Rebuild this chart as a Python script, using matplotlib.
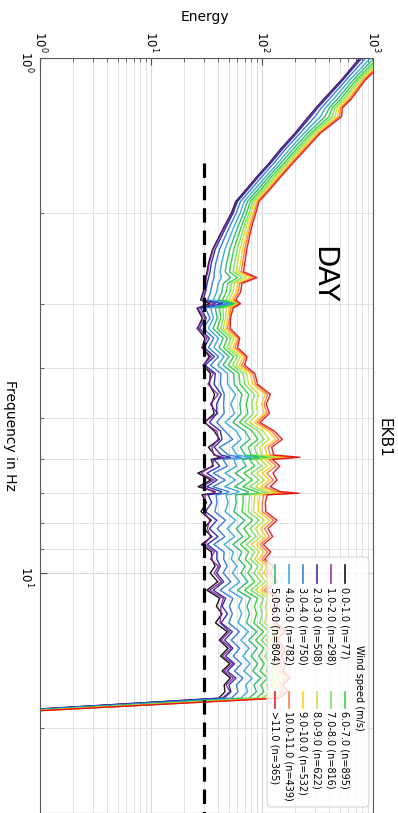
import matplotlib
matplotlib.use("Agg")
import matplotlib.pyplot as plt
from matplotlib.lines import Line2D
from matplotlib.patches import FancyBboxPatch
from matplotlib.ticker import NullFormatter

# spectrum frequencies (Hz)
freq_hz = [1.0, 1.1, 1.2, 1.25, 1.3, 1.4, 1.5, 1.6, 1.7, 1.8,
           1.9, 2.0, 2.1, 2.2, 2.35, 2.5, 2.6, 2.67, 2.74, 2.85,
           2.95, 3.0, 3.06, 3.2, 3.35, 3.5, 3.65, 3.8, 3.95, 4.1,
           4.3, 4.5, 4.7, 4.9, 5.1, 5.3, 5.5, 5.7, 5.9, 5.96,
           6.02, 6.2, 6.4, 6.6, 6.8, 6.95, 7.0, 7.05, 7.3, 7.6,
           7.9, 8.2, 8.5, 8.8, 9.1, 9.4, 9.7, 10.0, 10.4, 10.8,
           11.2, 11.6, 12.0, 12.5, 13.0, 13.5, 14.0, 14.5, 15.0, 15.5,
           16.0, 16.5, 17.0, 17.5, 19.5]

# mean energy per wind speed bin
ws_0_1 = [760, 525, 362, 306, 262, 198, 148, 116, 90, 72,
          58, 53, 47, 42, 36, 33, 32, 31, 30.5, 29.5,
          28, 34, 26, 29, 26.3, 30.5, 29.1, 33.5, 29.8, 34.3,
          33.6, 37.4, 35.2, 37.1, 30.4, 37.1, 41.4, 32.9, 37.7, 42,
          34.9, 36.4, 26.4, 34.7, 26.6, 37.8, 36, 28.8, 31.6, 28.2,
          34.9, 29.8, 35.4, 28.5, 35, 35.3, 37.8, 34.2, 39.9, 31.9,
          41.7, 38.8, 43.7, 38.1, 48.6, 41.3, 49.4, 42.3, 51.4, 43.7,
          51.9, 45.6, 46.4, 40.9, 0.01]
ws_1_2 = [770, 530, 366, 309, 266, 200, 150, 117, 91, 73,
          59, 54, 47.5, 42.5, 36.5, 33.5, 32.5, 31.5, 31, 30,
          28.4, 38, 26.4, 30.5, 25.9, 32, 28.6, 35.1, 29.3, 36.4,
          32.6, 40.2, 34.2, 39.8, 29.9, 39.1, 40.3, 35.3, 36.7, 45,
          36.9, 35.3, 28.2, 36.8, 28.5, 36.7, 38, 30.7, 30.6, 30.1,
          33.8, 32.2, 34.3, 30.4, 37.1, 34.3, 40.5, 37.1, 43.1, 33.7,
          44.9, 42.7, 42.6, 41.9, 50.8, 43.2, 52.5, 44.2, 54.6, 45.6,
          55.1, 47.5, 51.5, 43.7, 0.01]
ws_2_3 = [795, 543, 377, 318, 275, 205, 154, 120, 93, 74.5,
          60, 55, 49, 44, 38, 35, 34, 33, 32, 31,
          29.5, 44, 28, 31.5, 27.3, 33.6, 30.1, 37.3, 30.7, 38,
          37, 42.9, 39, 39.2, 33.6, 42.2, 43.6, 37.1, 42.8, 52,
          36.9, 41.7, 31.9, 39.4, 31.8, 43.2, 42, 32.6, 35.2, 31,
          39.2, 33.6, 40, 32.2, 39.2, 39.2, 42.1, 39, 45.2, 36.4,
          47.1, 43.7, 48.9, 42.8, 54, 46.1, 54.6, 47, 56.7, 48.5,
          58.3, 50.4, 52.5, 45.6, 0.01]
ws_3_4 = [860, 580, 406, 342, 300, 220, 164, 128, 99.5, 79.5,
          64, 58.7, 52.5, 47.5, 41.5, 38.4, 37.2, 37, 35.6, 34.4,
          32.4, 50, 31, 34, 29.6, 36.8, 33, 40.5, 34.4, 42.6,
          42.2, 45.7, 45.1, 45.6, 39.1, 46.4, 54.5, 41.4, 49.5, 65,
          44.6, 48.7, 36.4, 46.7, 36.1, 50.2, 48, 38.6, 39.3, 37.6,
          46.9, 39.4, 46.3, 36.8, 45.6, 45.1, 48.6, 44.7, 52.5, 41.9,
          54.6, 50.9, 54.1, 50.2, 62.6, 52.8, 63, 55, 65.3, 56.5,
          67.3, 58.7, 60.8, 53.2, 0.01]
ws_4_5 = [950, 627, 444, 373, 335, 239, 179, 139, 108, 86,
          69, 63.6, 57.4, 52.5, 46.4, 43.3, 42, 43, 40.3, 39,
          36.4, 55, 34.5, 36.5, 32.9, 40.4, 36.9, 45.4, 40, 48.9,
          49, 57.8, 52.3, 56.7, 46.5, 58.7, 64.9, 53.6, 59.2, 80,
          55.8, 58.9, 46.4, 57.8, 46.1, 62.1, 58, 47.4, 49.5, 46.5,
          57.8, 48.5, 56.7, 45.5, 55.1, 52.9, 59.4, 54.2, 63, 50.5,
          66.3, 61.6, 65.5, 60.9, 75.6, 64.3, 76.7, 67.2, 78.1, 68.4,
          81.6, 71.3, 74.2, 64.6, 0.01]
ws_5_6 = [1030, 672, 481, 403, 369, 257, 192, 148, 115, 92,
          73.8, 68.3, 62.1, 57.2, 51.3, 48, 46.6, 52, 44.9, 43.5,
          40.3, 58, 38, 39.5, 36.2, 44.6, 41.2, 50.2, 44.6, 55.6,
          56.2, 66, 63.2, 64.7, 54.7, 70, 77.9, 63.9, 70.4, 95,
          66.4, 71.7, 57.3, 69.8, 56.5, 75.1, 75, 57.7, 58.7, 55.9,
          69.8, 58.6, 67.1, 54.7, 65.7, 61.7, 70.2, 64.6, 74.6, 60.1,
          78.6, 73.2, 77, 72.5, 89.6, 75.8, 90.3, 79.9, 91.5, 82.7,
          97.5, 84.4, 89.1, 77, 0.01]
ws_6_7 = [1110, 713, 515, 430, 401, 274, 205, 158, 122, 97.8,
          78.2, 72.6, 66.4, 61.7, 55.8, 52.6, 51, 60, 49.2, 47.6,
          44, 60, 41.5, 42.5, 39.5, 48.8, 45.1, 55.6, 49.8, 61.9,
          63.4, 75.9, 72.2, 74.7, 62.6, 81.4, 91.6, 75.2, 79.6, 115,
          77.1, 86.1, 68.7, 81.9, 67, 88, 95, 67.4, 67.8, 65.8,
          82.3, 68.6, 78, 63.9, 75.8, 70.6, 81, 74.6, 86.1, 69.6,
          91, 85.4, 89.4, 84.2, 103.1, 87.4, 104, 93.5, 104.9, 96,
          112.9, 97.5, 104, 89.3, 0.01]
ws_7_8 = [1180, 749, 546, 454, 429, 289, 216, 166, 129, 102.7,
          82.1, 76.3, 70.2, 65.6, 59.9, 56.7, 55, 66, 53.2, 51.5,
          47.3, 61, 44.5, 45, 42.3, 52.5, 48.5, 59.9, 54.4, 67.6,
          70.1, 85.3, 80.8, 83.7, 69.9, 92.2, 104.6, 85.5, 90.3, 130,
          87.3, 99, 79.6, 94, 77.4, 101, 115, 77.2, 76.5, 75.2,
          94.3, 78.2, 88.4, 72.7, 85.9, 78.4, 91.8, 84.6, 97.7, 79.2,
          103.3, 96.5, 100.4, 95.3, 116.6, 98.4, 117.1, 106.2, 117.7, 109.3,
          128.3, 110.1, 119, 101.2, 0.01]
ws_8_9 = [1240, 779, 571, 475, 453, 302, 225, 172, 134, 106.9,
          85.4, 79.5, 73.4, 68.9, 63.4, 60.2, 58.4, 72, 56.5, 54.8,
          50.1, 62, 47.5, 47, 44.7, 55.7, 51.4, 63.7, 58.1, 72.8,
          75.8, 93.5, 88.4, 91.7, 76.8, 102, 116.1, 94.9, 99.5, 150,
          97, 110.7, 89.6, 105, 86.9, 112.3, 140, 86, 84.7, 83.7,
          105.2, 86.9, 97.8, 80.5, 94.3, 85.8, 101, 93.6, 108.2, 87.4,
          114, 106.7, 110.2, 105.6, 128.5, 108.5, 129.2, 117.5, 128.9, 120.7,
          142, 121.3, 132.4, 112.1, 0.01]
ws_9_10 = [1300, 811, 598, 496, 479, 315, 235, 179, 139, 111.2,
           88.7, 82.8, 76.7, 72.5, 67, 64, 62, 80, 60.2, 58.3,
           53.1, 63, 50.5, 49, 47, 58.8, 54.8, 68, 62.3, 78.5,
           82.6, 106.7, 98.8, 104.9, 85.6, 113.3, 133, 105.3, 111.2, 170,
           107.7, 123.6, 101, 117.1, 97.4, 125.3, 165, 95.8, 93.3, 93.1,
           117.2, 97, 108.2, 89.2, 104.4, 93.6, 111.2, 103.6, 119.2, 96.5,
           125.7, 117.9, 120.6, 117.2, 141.5, 119, 142.3, 130.7, 141.2, 134,
           156.9, 133.9, 146.8, 123.5, 0.01]
ws_10_11 = [1350, 835, 619, 513, 499, 325, 242, 184, 144, 114.5,
            91.4, 85.3, 79.3, 75.2, 70, 66.9, 64.9, 85, 63, 61,
            55.5, 63, 52.5, 51, 48.9, 61.4, 57.2, 71.3, 65.6, 82.7,
            87.4, 112.2, 104.5, 110.2, 90.2, 121.5, 141.7, 113.7, 118.8, 195,
            115.9, 134.3, 110.6, 126.5, 105.9, 135.5, 190, 103.7, 100.5, 100.6,
            127, 105.1, 116.5, 96.1, 112.4, 100, 119.3, 111.2, 128.1, 103.7,
            135.4, 127.1, 129, 126, 152.3, 127.7, 152.8, 141, 150.9, 143.9,
            168.5, 143.6, 158.6, 133, 0.01]
ws_11_up = [1400, 860, 640, 530, 520, 335, 250, 190, 148, 118,
            94, 88, 82, 78, 73, 70, 68, 90, 66, 64,
            58, 64, 55, 52, 51.7, 63, 60.1, 73.4, 69.8, 86.3,
            91.2, 118.8, 109.3, 116.6, 95.7, 128.8, 152.6, 122.2, 127.5, 220,
            124.2, 144.5, 125.6, 136.5, 118.8, 145.8, 215, 111.6, 107.1, 108.1,
            136.3, 113.3, 124.8, 103, 119.8, 105.8, 127.4, 118.8, 136.5, 111,
            144.5, 135.8, 137.3, 134.9, 162, 136.3, 162.8, 150.4, 160.5, 153.9,
            180.2, 153.3, 170, 142.5, 0.01]

bin_labels = ["0.0-1.0", "1.0-2.0", "2.0-3.0", "3.0-4.0", "4.0-5.0", "5.0-6.0",
              "6.0-7.0", "7.0-8.0", "8.0-9.0", "9.0-10.0", "10.0-11.0", ">11.0"]
bin_counts = [77, 298, 508, 750, 782, 804, 895, 816, 622, 532, 439, 365]

threshold = 30          # noise floor marker
threshold_from_hz = 1.6

series = [ws_0_1, ws_1_2, ws_2_3, ws_3_4, ws_4_5, ws_5_6,
          ws_6_7, ws_7_8, ws_8_9, ws_9_10, ws_10_11, ws_11_up]
colors = ['#000000', '#8a1f9e', '#2323a8', '#2a74d8', '#2fa4d8', '#22b46a',
          '#2ecc2e', '#72e05e', '#c4e034', '#f2d210', '#ff7040', '#e01010']

W, H = 398, 813


def px(x, y):
    # pixel position (from top-left) -> figure fraction
    return x / W, 1 - y / H


fig = plt.figure(figsize=(W / 100, H / 100), dpi=100)
ax = fig.add_axes([40 / W, 0, 333 / W, 755 / H])

# the plot is drawn turned on its side: energy across, frequency downwards
for vals, c in zip(series, colors):
    ax.plot(vals, freq_hz, color=c, lw=1.0, alpha=0.92)

ax.plot([threshold, threshold], [threshold_from_hz, 40], color='black',
        lw=2.3, ls=(0, (4.5, 2.5)))

ax.set_xscale('log')
ax.set_yscale('log')
ax.set_xlim(1, 1000)
ax.set_ylim(10 ** (755 / 515), 1)

ax.xaxis.tick_top()
ax.xaxis.set_minor_formatter(NullFormatter())
ax.yaxis.set_minor_formatter(NullFormatter())
ax.tick_params(which='both', direction='in', top=True, bottom=False,
               left=True, right=False, colors='0.3', labelcolor='black',
               labelsize=8.5)
ax.tick_params(which='major', length=5)
ax.tick_params(which='minor', length=3)
ax.tick_params(axis='x', labelrotation=-90, pad=4)
ax.tick_params(axis='y', labelrotation=-90, pad=4)

ax.grid(which='major', color='#d8d8d8', lw=0.8)
ax.grid(which='minor', color='#e2e2e2', lw=0.7)
for sp in ax.spines.values():
    sp.set_color('0.35')

ax.text(0.851, 0.713, 'DAY', transform=ax.transAxes, rotation=-90,
        ha='center', va='center', fontsize=21)

fig.text(*px(205, 17), 'Energy', ha='center', va='center', fontsize=10)
fig.text(*px(10, 435), 'Frequency in Hz', rotation=-90, ha='center',
         va='center', fontsize=10)
fig.text(*px(384, 438), 'EKB1', rotation=-90, ha='center', va='center',
         fontsize=11)

# legend, laid out by hand so it can be turned with the rest
x0, y0 = px(267, 807)
x1, y1 = px(369, 557)
frame = FancyBboxPatch((x0, y0), x1 - x0, y1 - y0, transform=fig.transFigure,
                       boxstyle='round,pad=0,rounding_size=0.008',
                       facecolor='white', edgecolor='0.8', alpha=0.8, lw=0.8)
fig.add_artist(frame)
fig.text(*px(359, 688), 'Wind speed (m/s)', rotation=-90, ha='center',
         va='center', fontsize=7)

row_x = [345, 331, 317, 303, 289, 275]
col_y = [(565, 583, 587), (692, 708, 711)]
for i, (lab, n) in enumerate(zip(bin_labels, bin_counts)):
    col, row = divmod(i, 6)
    lx = row_x[row]
    ya, yb, yt = col_y[col]
    fx, fa = px(lx, ya)
    _, fb = px(lx, yb)
    fig.add_artist(Line2D([fx, fx], [fa, fb], transform=fig.transFigure,
                          color=colors[i], lw=1.2, alpha=0.92))
    fig.text(*px(lx, yt), f"{lab} (n={n})", rotation=-90, ha='center',
             va='top', fontsize=7)

fig.savefig('out.png', dpi=100)
